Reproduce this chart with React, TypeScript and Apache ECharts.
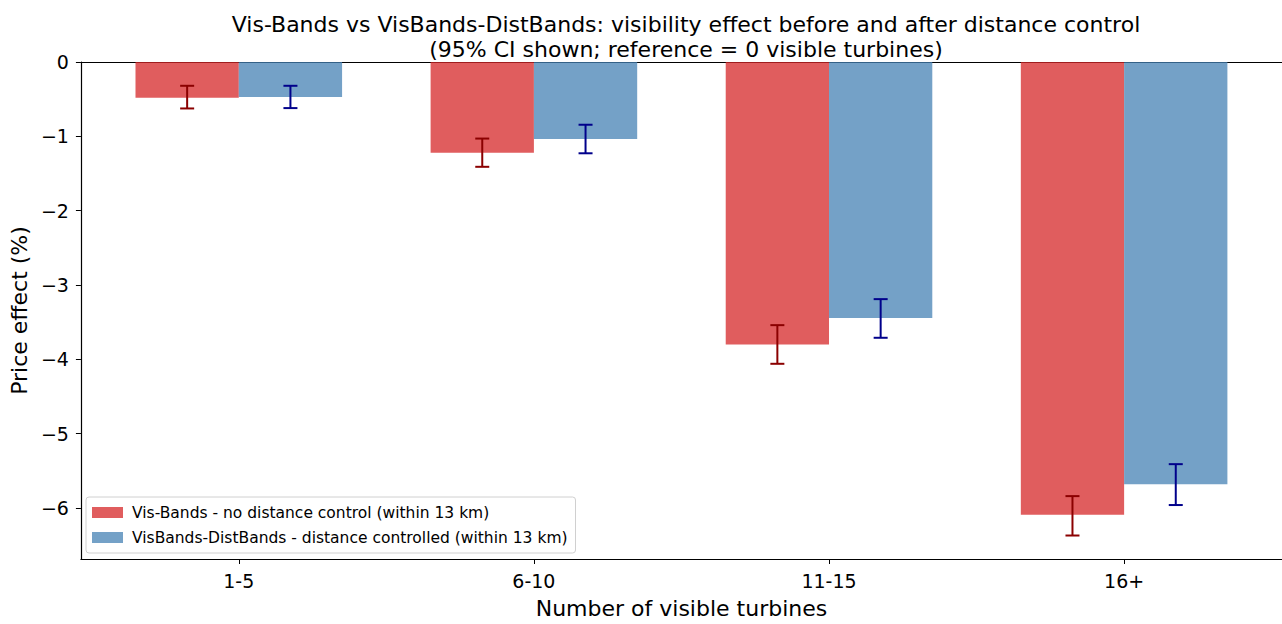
import React, { useEffect, useRef } from "react";
import * as echarts from "echarts";

// Visible-turbine bands on the x axis
const categories = ["1-5", "6-10", "11-15", "16+"];

// Price effect (%) and 95% CI, no distance control
const visBands = [-0.48, -1.22, -3.8, -6.09];
const visBandsLow = [-0.625, -1.41, -4.06, -6.37];
const visBandsHigh = [-0.32, -1.03, -3.54, -5.84];

// Price effect (%) and 95% CI, distance controlled
const distBands = [-0.47, -1.035, -3.445, -5.68];
const distBandsLow = [-0.62, -1.228, -3.71, -5.96];
const distBandsHigh = [-0.32, -0.844, -3.19, -5.41];

const yTicks = [0, -1, -2, -3, -4, -5, -6];

const SERIES_A = "Vis-Bands - no distance control (within 13 km)";
const SERIES_B = "VisBands-DistBands - distance controlled (within 13 km)";

const FONT = "DejaVu Sans";
const BAR_W = 0.35;
const RED = "rgba(214,39,40,0.75)";
const BLUE = "rgba(70,130,180,0.75)";

function barSeries(name: string, values: number[], offset: number, color: string) {
  return {
    name,
    type: "custom",
    itemStyle: { color },
    data: values.map((v, i) => [i, v]),
    renderItem: (_p: any, api: any) => {
      const x = api.value(0) + offset;
      const v = api.value(1);
      const a = api.coord([x - BAR_W / 2, 0]);
      const b = api.coord([x + BAR_W / 2, v]);
      return {
        type: "rect",
        shape: { x: a[0], y: a[1], width: b[0] - a[0], height: b[1] - a[1] },
        style: { fill: color },
      };
    },
  };
}

function errorSeries(name: string, low: number[], high: number[], offset: number, color: string) {
  return {
    name,
    type: "custom",
    z: 5,
    data: low.map((l, i) => [i, l, high[i]]),
    renderItem: (_p: any, api: any) => {
      const x = api.value(0) + offset;
      const lo = api.coord([x, api.value(1)]);
      const hi = api.coord([x, api.value(2)]);
      const cap = 7;
      const style = { stroke: color, lineWidth: 2 };
      return {
        type: "group",
        children: [
          { type: "line", shape: { x1: lo[0], y1: lo[1], x2: hi[0], y2: hi[1] }, style },
          { type: "line", shape: { x1: lo[0] - cap, y1: lo[1], x2: lo[0] + cap, y2: lo[1] }, style },
          { type: "line", shape: { x1: hi[0] - cap, y1: hi[1], x2: hi[0] + cap, y2: hi[1] }, style },
        ],
      };
    },
  };
}

export default function App() {
  const ref = useRef<HTMLDivElement>(null);

  useEffect(() => {
    document.body.style.margin = "0";
    const chart = echarts.init(ref.current!, null, { renderer: "svg" });
    const axisLine = { show: true, onZero: false, lineStyle: { color: "#000", width: 1.2 } };
    chart.setOption({
      animation: false,
      backgroundColor: "#fff",
      textStyle: { fontFamily: FONT },
      title: {
        text:
          "Vis-Bands vs VisBands-DistBands: visibility effect before and after distance control\n(95% CI shown; reference = 0 visible turbines)",
        left: 681,
        top: 7,
        textAlign: "center",
        textStyle: { fontFamily: FONT, fontSize: 22, fontWeight: "normal", color: "#000", lineHeight: 25 },
      },
      legend: {
        data: [SERIES_A, SERIES_B],
        orient: "vertical",
        left: 86,
        top: 497,
        icon: "rect",
        itemWidth: 31,
        itemHeight: 11,
        itemGap: 8,
        padding: [7, 8, 7, 6],
        borderColor: "#d0d0d0",
        borderWidth: 1,
        borderRadius: 3,
        backgroundColor: "rgba(255,255,255,0.8)",
        textStyle: { fontFamily: FONT, fontSize: 15.5, lineHeight: 17, color: "#000", padding: [0, 0, 0, 4] },
      },
      grid: { left: 78, top: 62, width: 1206, bottom: 63, containLabel: false },
      xAxis: [
        {
          type: "value",
          min: -0.535,
          max: 3.535,
          name: "Number of visible turbines",
          nameLocation: "middle",
          nameGap: 38,
          nameTextStyle: { fontFamily: FONT, fontSize: 22, color: "#000" },
          axisLine,
          splitLine: { show: false },
          axisTick: { show: true, length: 5, customValues: [0, 1, 2, 3], lineStyle: { color: "#000" } },
          axisLabel: {
            customValues: [0, 1, 2, 3],
            formatter: (v: number) => categories[Math.round(v)] ?? "",
            fontFamily: FONT,
            fontSize: 19,
            color: "#000",
            margin: 12,
          },
        },
        {
          type: "value",
          position: "top",
          min: -0.535,
          max: 3.535,
          axisLine,
          axisTick: { show: false },
          axisLabel: { show: false },
          splitLine: { show: false },
        },
      ],
      yAxis: {
        type: "value",
        min: -6.686,
        max: 0,
        name: "Price effect (%)",
        nameLocation: "middle",
        nameGap: 50,
        nameTextStyle: { fontFamily: FONT, fontSize: 22, color: "#000" },
        axisLine,
        splitLine: { show: false },
        axisTick: { show: true, length: 5, customValues: yTicks, lineStyle: { color: "#000" } },
        axisLabel: {
          customValues: yTicks,
          formatter: (v: number) => String(v).replace("-", "\u2212"),
          fontFamily: FONT,
          fontSize: 19,
          color: "#000",
          margin: 12,
        },
      },
      series: [
        barSeries(SERIES_A, visBands, -BAR_W / 2, RED),
        barSeries(SERIES_B, distBands, BAR_W / 2, BLUE),
        errorSeries("ci-a", visBandsLow, visBandsHigh, -BAR_W / 2, "#8b0000"),
        errorSeries("ci-b", distBandsLow, distBandsHigh, BAR_W / 2, "#00008b"),
      ],
    });
    return () => chart.dispose();
  }, []);

  return <div ref={ref} style={{ width: 1282, height: 624 }} />;
}
